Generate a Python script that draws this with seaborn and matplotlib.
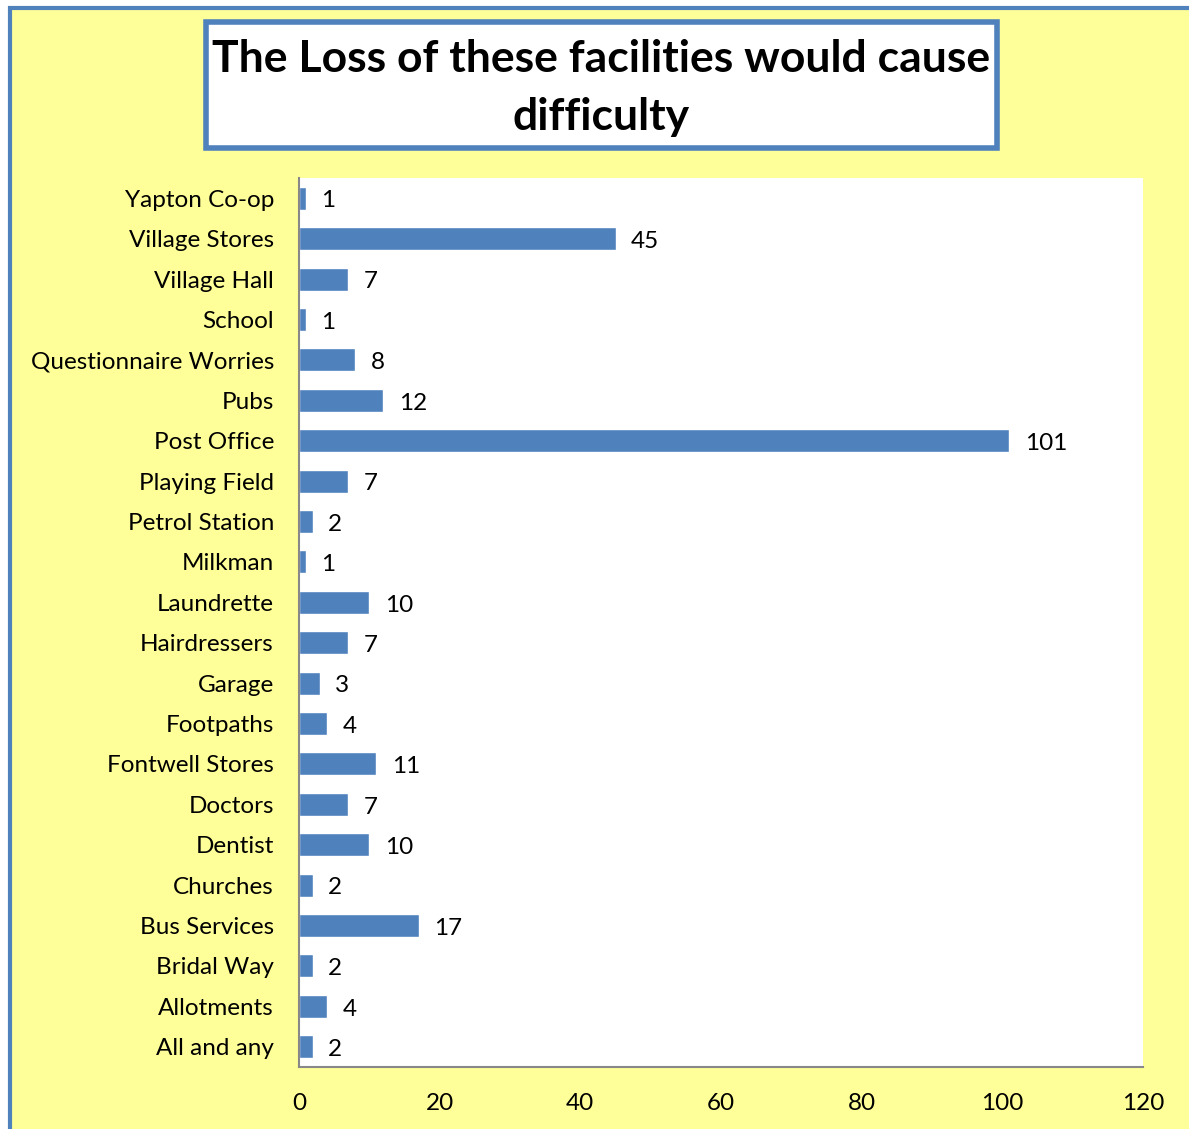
import matplotlib
matplotlib.use("Agg")
import matplotlib.pyplot as plt
import seaborn as sns
import pandas as pd
from matplotlib.patches import Rectangle

facilities = ["Yapton Co-op", "Village Stores", "Village Hall", "School",
              "Questionnaire Worries", "Pubs", "Post Office", "Playing Field",
              "Petrol Station", "Milkman", "Laundrette", "Hairdressers",
              "Garage", "Footpaths", "Fontwell Stores", "Doctors", "Dentist",
              "Churches", "Bus Services", "Bridal Way", "Allotments", "All and any"]
counts = [1, 45, 7, 1, 8, 12, 101, 7, 2, 1, 10, 7, 3, 4, 11, 7, 10, 2, 17, 2, 4, 2]
x_ticks = [0, 20, 40, 60, 80, 100, 120]

df = pd.DataFrame({"facility": facilities, "count": counts})

sns.set_theme(style="white")
plt.rcParams['font.family'] = ['Lato', 'DejaVu Sans']
plt.rcParams['text.color'] = 'black'
plt.rcParams['xtick.color'] = 'black'
plt.rcParams['ytick.color'] = 'black'

yellow = "#FFFF99"
blue = "#4F81BD"

fig = plt.figure(figsize=(11.89, 11.29), dpi=100)
fig.patch.set_facecolor("white")

# yellow chart area with blue border
fig.add_artist(Rectangle((10 / 1189, -0.01), 1.02, 1 - 8 / 1129 + 0.01,
                         transform=fig.transFigure, facecolor=yellow,
                         edgecolor=blue, linewidth=3, zorder=-10))

ax = fig.add_axes([299 / 1189, 1 - 1067 / 1129, (1143 - 299) / 1189, (1067 - 178) / 1129])
sns.barplot(data=df, x="count", y="facility", order=facilities, orient="h",
            color=blue, saturation=1, width=0.57, ax=ax)

ax.set_facecolor("white")
ax.set_xlim(0, 120)
ax.set_xticks(x_ticks)
ax.set_xlabel("")
ax.set_ylabel("")
ax.tick_params(axis="y", labelsize=17.5, pad=18, length=0)
ax.tick_params(axis="x", labelsize=17.5, pad=19, length=0)
for side in ["top", "right"]:
    ax.spines[side].set_visible(False)
for side in ["left", "bottom"]:
    ax.spines[side].set_color("#888888")
    ax.spines[side].set_linewidth(1.5)

for p, v in zip(ax.patches, counts):
    ax.annotate(str(v), (p.get_width(), p.get_y() + p.get_height() / 2),
                xytext=(11, -2), textcoords="offset points", ha="left", va="center",
                fontsize=17.5)

# title in white box with blue border
fig.add_artist(Rectangle((206 / 1189, 1 - 148 / 1129), (997 - 206) / 1189, (148 - 22) / 1129,
                         transform=fig.transFigure, facecolor="white",
                         edgecolor=blue, linewidth=4, zorder=1))
fig.text(601 / 1189, 1 - 88 / 1129, "The Loss of these facilities would cause\ndifficulty",
         ha="center", va="center", fontsize=32, fontweight="bold",
         linespacing=1.55, zorder=2)

fig.savefig("out.png", dpi=100, facecolor=fig.get_facecolor())
